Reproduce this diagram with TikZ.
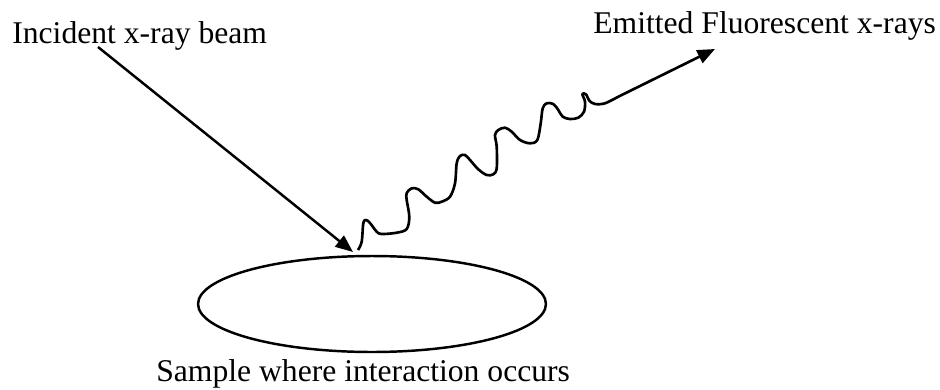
\documentclass[tikz,border=0pt]{standalone}
\usepackage{fontspec}
\setmainfont{Liberation Serif}
\usetikzlibrary{arrows.meta,shapes.geometric}

\begin{document}
\begin{tikzpicture}[x=0.02cm,y=-0.02cm,
    lbl/.style={anchor=base west,inner sep=0pt,font=\fontsize{18}{21}\selectfont},
    ray/.style={line width=1.4pt,line join=round,-{Triangle[length=3.5mm,width=2.8mm]}}]
  \useasboundingbox (0,0) rectangle (940,389);
  % labels
  \node[lbl] (incident) at (12,43) {Incident x-ray beam};
  \node[lbl] (emitted) at (593,33) {Emitted Fluorescent x-rays};
  \node[lbl] (caption) at (156,381) {Sample where interaction occurs};
  % the sample
  \node[draw,ellipse,line width=1.4pt,inner sep=0pt,minimum width=6.96cm,minimum height=1.92cm] (sample) at (372,304) {};
  \coordinate (beamstart) at (98,47);
  \coordinate (hit) at (353,252);
  \coordinate (wavestart) at (358,250);
  \coordinate (outtip) at (715,49);
  % incoming beam
  \draw[ray] (beamstart) -- (hit);
  % fluorescent wave
  \draw[ray,line width=1.5pt] (wavestart) plot[smooth,tension=0.55] coordinates {
      (358,250) (361.7,241.7) (363.3,223.3) (366,220) (370,223) (376.7,231.7)
      (381.7,234) (396.7,232.7) (406.7,229) (409.3,216.7) (406.7,200) (406.7,193)
      (411.7,188.3) (418.3,189.3) (426.7,196.7) (435,202.7) (441.7,201.7) (450,196.7)
      (455,183.3) (456.7,163.3) (460,156) (465,155) (470,160) (478.3,169.3)
      (486.7,175) (493.3,174.3) (496.7,168.3) (496.7,146.7) (495,135) (498.3,130)
      (505,127.7) (511.7,131.7) (520,140) (530,143.3) (537.3,140) (540.7,123.3)
      (542.7,108.3) (546.7,103.3) (553.3,104) (558.3,110) (562.7,116.7) (570,119)
      (578.3,117.7) (584,111.7) (585,101.7) (582.3,94) (586,94.3) (589.3,100.7)
      (595,104) (605,103.3) (618.3,96.7)} -- (outtip);
\end{tikzpicture}
\end{document}
